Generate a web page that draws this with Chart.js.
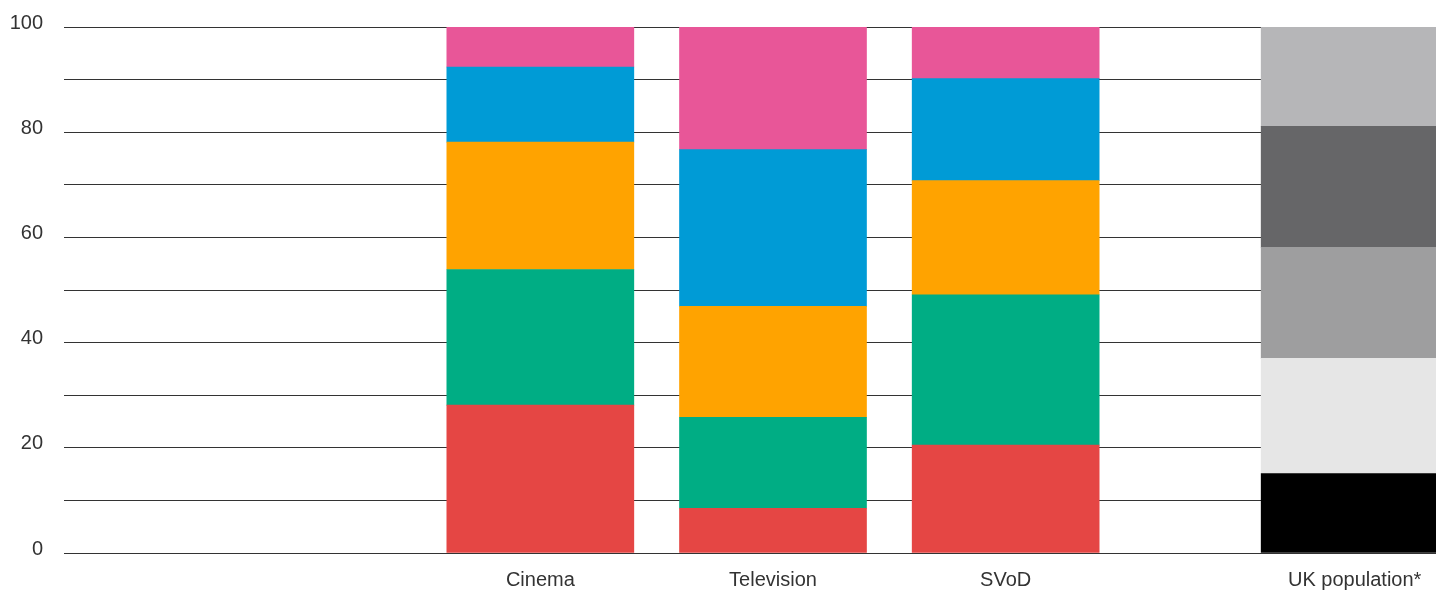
<!DOCTYPE html>
<html>
<head>
<meta charset="utf-8">
<script src="https://cdn.jsdelivr.net/npm/chart.js@4/dist/chart.umd.min.js"></script>
<style>
  html, body { margin: 0; padding: 0; background: #fff; overflow: hidden; }
  #wrap { width: 1436px; height: 593px; overflow: hidden; }
  #chart { display: block; }
</style>
</head>
<body>
<div id="wrap"><canvas id="chart" width="1471" height="593"></canvas></div>
<script>
// x axis slots, blanks keep the gaps between the bars
const axisLabels = ['', '', '', '', 'Cinema', '', 'Television', '', 'SVoD', '', '', 'UK population*', ''];
const categories = ['Cinema', 'Television', 'SVoD', 'UK population*'];

// stacked shares (%), bottom segment first
const band1 = [28.1, 8.5, 20.5, 15.1];
const band2 = [25.8, 17.3, 28.6, 21.9];
const band3 = [24.2, 21.1, 21.7, 21.1];
const band4 = [14.3, 29.8, 19.4, 23.0];
const band5 = [7.6, 23.3, 9.8, 18.9];

const yTicks = [0, 20, 40, 60, 80, 100];

const mediaColors = ['#e54644', '#00ad84', '#ffa300', '#009bd6', '#e85698'];
const ukColors = ['#000000', '#e6e6e6', '#9e9e9f', '#666668', '#b6b6b8'];

function spread(values) {
  return axisLabels.map(label => {
    const i = categories.indexOf(label);
    return i === -1 ? null : values[i];
  });
}

function colorsFor(band) {
  return axisLabels.map(label => label === 'UK population*' ? ukColors[band] : mediaColors[band]);
}

const bands = [band1, band2, band3, band4, band5];
const datasets = bands.map((values, i) => ({
  label: 'band' + (i + 1),
  data: spread(values),
  backgroundColor: colorsFor(i),
  borderWidth: 0,
  barThickness: 187
}));

const ctx = document.getElementById('chart').getContext('2d');
window.myChart = new Chart(ctx, {
  type: 'bar',
  data: {
    labels: axisLabels,
    datasets: datasets
  },
  options: {
    responsive: false,
    animation: false,
    layout: { padding: { top: 27, left: 0, right: 0, bottom: 0 } },
    plugins: {
      legend: { display: false },
      tooltip: { enabled: false }
    },
    scales: {
      x: {
        stacked: true,
        offset: false,
        grid: { display: false, drawTicks: false },
        border: { display: false },
        ticks: {
          autoSkip: false,
          maxRotation: 0,
          padding: 15,
          color: '#333',
          font: { family: 'Liberation Sans', size: 20 }
        },
        afterFit: scale => {
          scale.height = 40;
          scale.paddingLeft = 0;
          scale.paddingRight = 0;
        }
      },
      y: {
        stacked: true,
        min: 0,
        max: 100,
        border: { display: false },
        grid: {
          color: '#333',
          lineWidth: 1,
          drawTicks: true,
          tickLength: 11
        },
        ticks: {
          stepSize: 10,
          padding: 21,
          labelOffset: -4,
          color: '#333',
          font: { family: 'Liberation Sans', size: 20 },
          callback: value => yTicks.includes(value) ? value : ''
        },
        afterFit: scale => {
          scale.width = 75;
          scale.paddingTop = 0;
          scale.paddingBottom = 0;
        }
      }
    }
  }
});
</script>
</body>
</html>
